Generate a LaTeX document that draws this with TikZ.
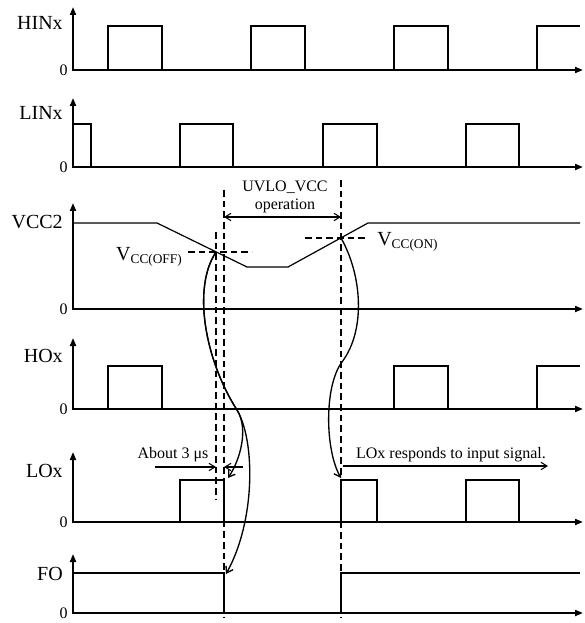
\documentclass[tikz,border=0pt]{standalone}
\usepackage{fontspec}
\setmainfont{Liberation Serif}
\usetikzlibrary{arrows.meta}
\tikzset{
  axis/.style={line width=1.4pt,{Triangle[length=6pt,width=4.5pt]}-{Triangle[length=6pt,width=4.5pt]}},
  wave/.style={line width=0.9pt},
  guide/.style={line width=0.9pt,dash pattern=on 5pt off 3pt},
  flow/.style={line width=1pt,-{Straight Barb[length=4.5pt,width=6pt]}},
  pointer/.style={line width=0.8pt,-{Straight Barb[length=4.5pt,width=5.5pt]}},
  span/.style={line width=0.8pt,{Straight Barb[length=4.5pt,width=5.5pt]}-{Straight Barb[length=4.5pt,width=5.5pt]}},
  sig/.style={font=\fontsize{15}{15}\selectfont,inner sep=0.75pt},
  zero/.style={font=\fontsize{12}{12}\selectfont,inner sep=0.75pt,anchor=east},
  note/.style={font=\fontsize{12}{12}\selectfont,inner sep=0.75pt,anchor=base}
}
\newcommand{\vlevel}[1]{{\fontsize{15}{15}\selectfont V}\raisebox{-2.5pt}{\fontsize{10}{10}\selectfont #1}}
\begin{document}
\begin{tikzpicture}[x=0.75pt,y=0.75pt,yscale=-1,xscale=1]
\useasboundingbox (0,0) rectangle (584,623);
\draw [axis] (73,7) -- (73,70) -- (583,70) ;
\draw [axis] (73,98) -- (73,167) -- (583,167) ;
\draw [axis] (73,203) -- (73,309) -- (583,309) ;
\draw [axis] (73,338) -- (73,409) -- (583,409) ;
\draw [axis] (73,452) -- (73,522) -- (583,522) ;
\draw [axis] (73,554) -- (73,613) -- (583,613) ;
\draw [wave] (73,70) -- (108,70) -- (108,26) -- (162,26) -- (162,70) -- (251,70) -- (251,26) -- (305,26) -- (305,70) -- (394,70) -- (394,26) -- (448,26) -- (448,70) -- (537,70) -- (537,26) -- (580,26) ;
\draw [wave] (73,124) -- (91,124) -- (91,167) -- (180,167) -- (180,124) -- (233,124) -- (233,167) -- (323,167) -- (323,124) -- (377,124) -- (377,167) -- (466,167) -- (466,124) -- (519,124) -- (519,167) ;
\draw [wave] (73,223) -- (157,223) -- (247,267) -- (288,267) -- (368,223) -- (580,223) ;
\draw [wave] (73,409) -- (108,409) -- (108,366) -- (162,366) -- (162,409) ;
\draw [wave] (394,409) -- (394,366) -- (448,366) -- (448,409) -- (537,409) -- (537,366) -- (580,366) ;
\draw [wave] (180,522) -- (180,480) -- (224,480) -- (224,522) ;
\draw [wave] (341,522) -- (341,480) -- (377,480) -- (377,522) -- (466,522) -- (466,480) -- (519,480) -- (519,522) ;
\draw [wave] (73,573) -- (224,573) -- (224,613) ;
\draw [wave] (341,613) -- (341,573) -- (580,573) ;
\draw [guide] (216,232) -- (216,500) ;
\draw [guide] (224,190) -- (224,618) ;
\draw [guide] (341,180) -- (341,618) ;
\draw [guide] (188,252) -- (252,252) ;
\draw [guide] (305,238) -- (368,238) ;
\draw (64,23) node (hin) [sig,anchor=east] {HINx};
\draw (69,70) node (hin0) [zero] {0};
\draw (64,113) node (lin) [sig,anchor=east] {LINx};
\draw (69,167) node (lin0) [zero] {0};
\draw (64,222) node (vcc) [sig,anchor=east] {VCC2};
\draw (69,309) node (vcc0) [zero] {0};
\draw (64,356) node (ho) [sig,anchor=east] {HOx};
\draw (69,409) node (ho0) [zero] {0};
\draw (64,471) node (lo) [sig,anchor=east] {LOx};
\draw (69,522) node (lo0) [zero] {0};
\draw (64,574) node (fo) [sig,anchor=east] {FO};
\draw (69,613) node (fo0) [zero] {0};
\draw (183,260) node (vcoff) [anchor=base east,inner sep=0.75pt] {\vlevel{CC(OFF)}};
\draw (376,245) node (vcon) [anchor=base west,inner sep=0.75pt] {\vlevel{CC(ON)}};
\draw (285,192) node (uvlo) [note] {UVLO\_VCC};
\draw (285,210) node (uvop) [note] {operation};
\draw (173,458) node (dt) [note] {About 3 μs};
\draw (451,458) node (resp) [note] {LOx responds to input signal.};
\coordinate (uvA) at (224,217) ;
\coordinate (uvB) at (341,217) ;
\coordinate (dtL) at (155,467) ;
\coordinate (dtA) at (216,467) ;
\coordinate (dtR) at (243,467) ;
\coordinate (dtB) at (224,467) ;
\coordinate (rsL) at (343,466) ;
\coordinate (rsR) at (548,466) ;
\draw [span] (uvA) -- (uvB) ;
\draw [pointer] (dtL) -- (dtA) ;
\draw [pointer] (dtR) -- (dtB) ;
\draw [pointer] (rsL) -- (rsR) ;
\coordinate (voff) at (216,252) ;
\coordinate (hoff) at (237,410) ;
\coordinate (loff) at (228,478) ;
\coordinate (foff) at (226,574) ;
\coordinate (von) at (341,238) ;
\coordinate (bend) at (342,362) ;
\coordinate (lon) at (341,478) ;
\draw [flow] (voff) .. controls (192,288) and (205,360) .. (hoff) .. controls (249,429) and (240,460) .. (loff) ;
\draw [flow] (voff) .. controls (192,288) and (205,360) .. (hoff) .. controls (255,440) and (256,520) .. (foff) ;
\draw [flow] (von) .. controls (362,275) and (366,330) .. (bend) .. controls (324,386) and (325,450) .. (lon) ;
\end{tikzpicture}
\end{document}
